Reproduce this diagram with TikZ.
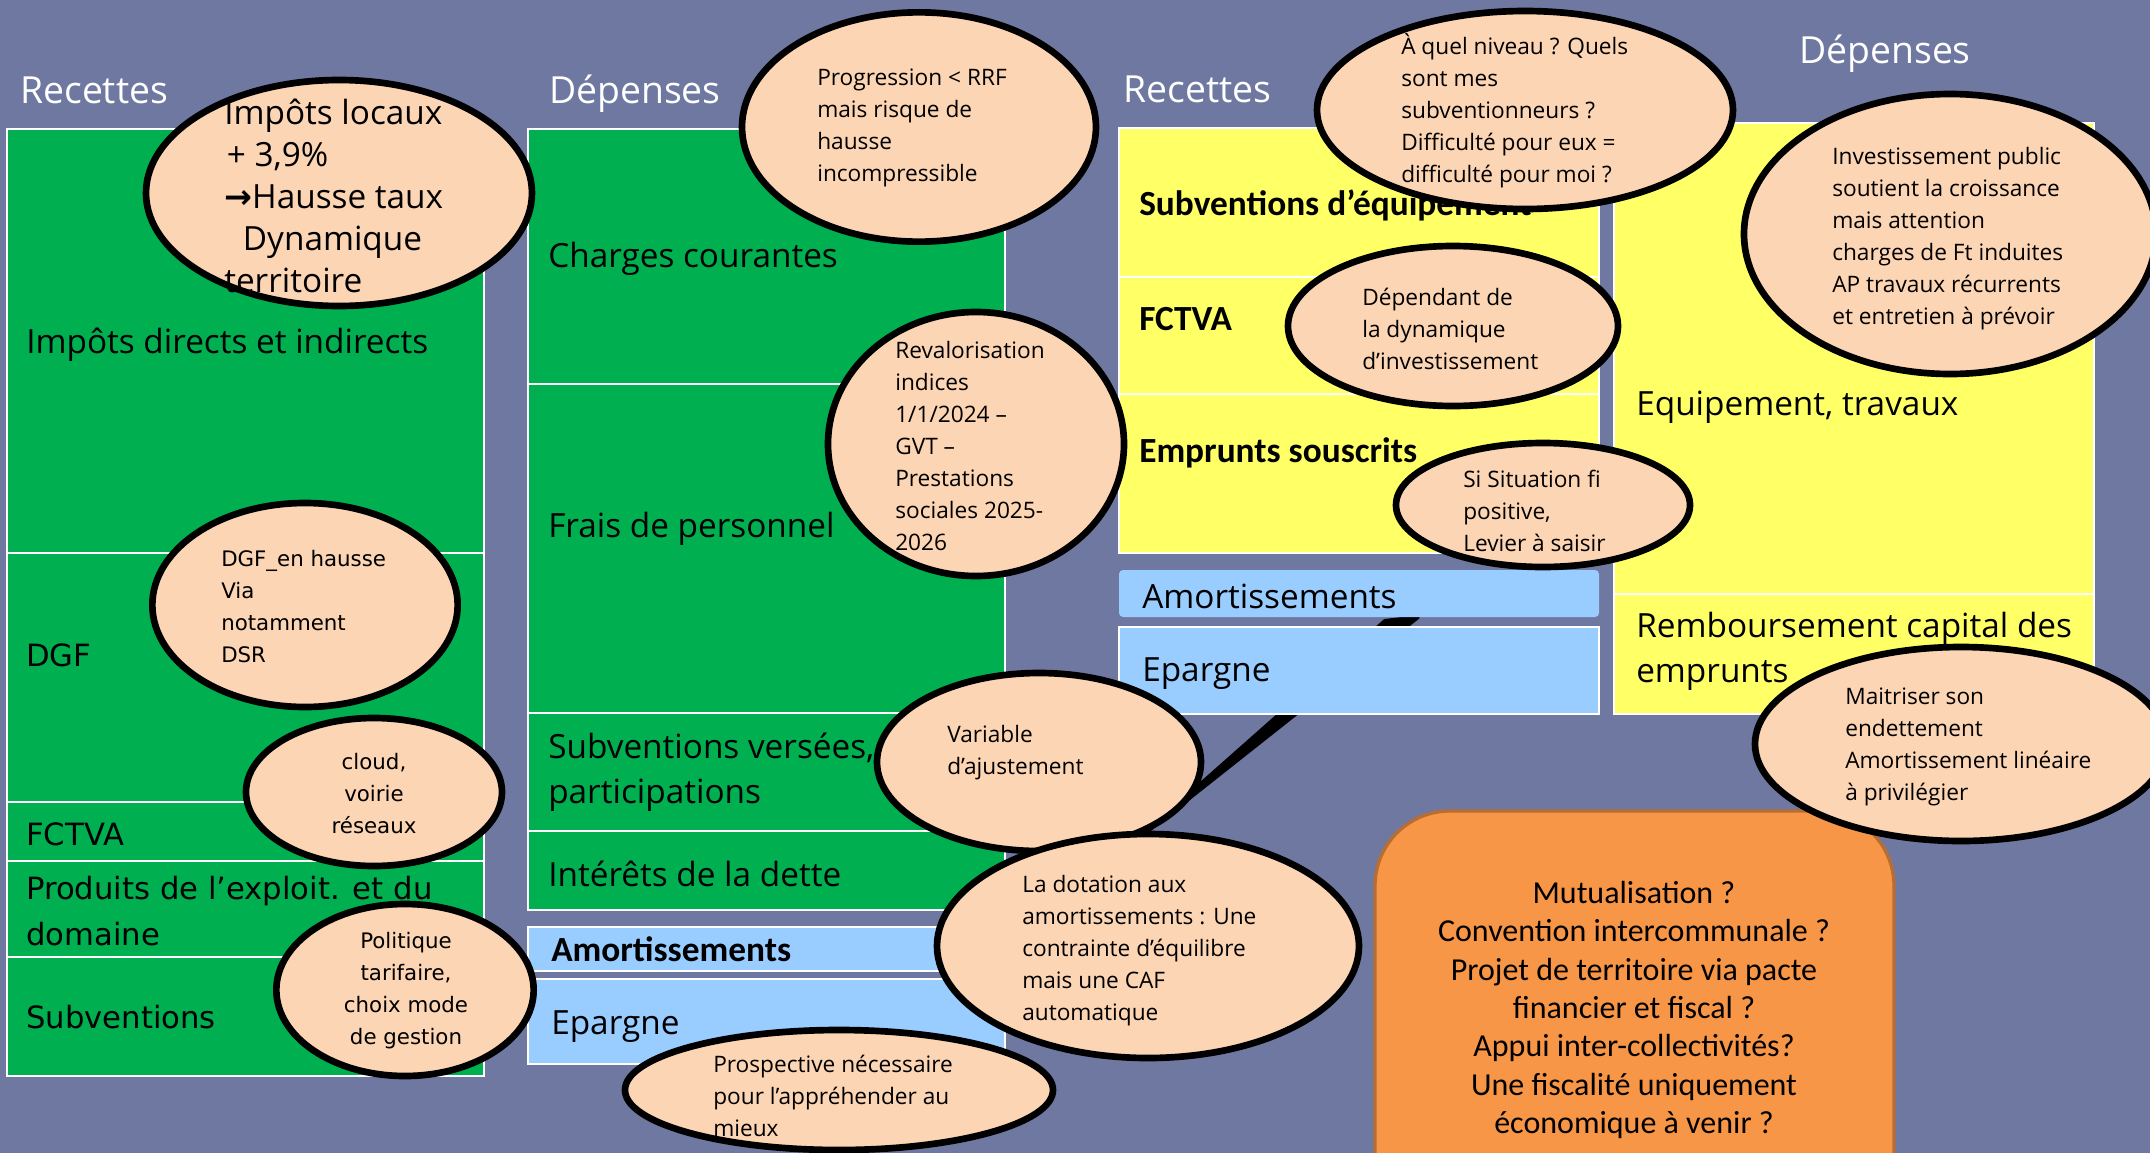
\documentclass[tikz,border=0pt]{standalone}
\usepackage{fontspec}
\setmainfont{Open Sans}
\newfontfamily\dv{DejaVu Sans}
\newfontfamily\cb{Carlito}
\usetikzlibrary{shapes.geometric}
\definecolor{bg}{RGB}{110,120,160}
\definecolor{grn}{RGB}{0,176,80}
\definecolor{yel}{RGB}{255,255,102}
\definecolor{blu}{RGB}{153,204,255}
\definecolor{pch}{RGB}{252,213,180}
\definecolor{org}{RGB}{247,150,70}
\definecolor{orgd}{RGB}{182,110,52}
\pgfdeclarelayer{bgl}
\pgfdeclarelayer{ptr}
\pgfsetlayers{bgl,ptr,main}
\begin{document}
\begin{tikzpicture}[x=0.75pt,y=-0.75pt,
  gbox/.style={draw=white,line width=2.2pt,fill=grn},
  ybox/.style={draw=white,line width=2.2pt,fill=yel},
  bbox/.style={draw=white,line width=2.2pt,fill=blu},
  obox/.style={draw=orgd,line width=2.5pt,fill=org,rounded corners=56pt},
  bt/.style={anchor=west,inner sep=0pt,align=left,font=\fontsize{25}{34}\selectfont},
  bld/.style={anchor=west,inner sep=0pt,font=\cb\bfseries\fontsize{26.5}{32}\selectfont},
  dvt/.style={anchor=west,inner sep=0pt,align=left,font=\dv\fontsize{23}{34}\selectfont},
  ttl/.style={anchor=base west,inner sep=0pt,text=white,font=\fontsize{28}{34}\selectfont},
  bub/.style={ellipse,draw=black,line width=5pt,fill=pch,inner sep=0pt},
  st/.style={anchor=west,inner sep=0pt,align=left,font=\fontsize{17}{24}\selectfont},
  dst/.style={inner sep=0pt,align=center,font=\dv\fontsize{16}{24}\selectfont},
  dsl/.style={anchor=west,inner sep=0pt,align=left,font=\dv\fontsize{16}{24}\selectfont},
  ot/.style={inner sep=0pt,align=center,font=\cb\fontsize{24}{28.8}\selectfont},
]
\useasboundingbox (0,0) rectangle (2150,1153);
\clip (0,0) rectangle (2150,1153);
\begin{pgfonlayer}{bgl}
\fill[bg] (0,0) rectangle (2150,1153);
\end{pgfonlayer}

% titles
\node[ttl] (h1) at (20,103) {Recettes};
\node[ttl] (h2) at (549,103) {Dépenses};
\node[ttl] (h3) at (1123,102) {Recettes};
\node[ttl] (h4) at (1799,63) {Dépenses};

% column 1
\draw[gbox] (7,129) rectangle (484,553);
\draw[gbox] (7,553) rectangle (484,802);
\draw[gbox] (7,802) rectangle (484,861);
\draw[gbox] (7,861) rectangle (484,957);
\draw[gbox] (7,957) rectangle (484,1076);
\node[bt] (c1a) at (26,345) {Impôts directs et indirects};
\node[dvt] (c1b) at (26,655) {DGF};
\node[dvt] (c1c) at (26,834) {FCTVA};
\node[dvt] (c1e) at (26,1017) {Subventions};

% column 2
\draw[gbox] (528,129) rectangle (1005,384);
\draw[gbox] (528,384) rectangle (1005,713);
\draw[gbox] (528,713) rectangle (1005,831);
\draw[gbox] (528,831) rectangle (1005,910);
\draw[bbox] (528,927) rectangle (1005,971);
\draw[bbox] (528,979) rectangle (1005,1064);
\node[bt] (c2a) at (548,259) {Charges courantes};
\node[bt] (c2b) at (548,529) {Frais de personnel};
\node[bt] (c2c) at (548,772) {Subventions versées,\\participations};
\node[bt] (c2d) at (548,874) {Intérêts de la dette};
\node[bld] (c2e) at (551,949) {Amortissements};
\node[bt] (c2f) at (551,1027) {Epargne};

% column 3
\draw[ybox] (1119,128) rectangle (1599,277);
\draw[ybox] (1119,277) rectangle (1599,394);
\draw[ybox] (1119,394) rectangle (1599,553);
\fill[blu,rounded corners=3pt] (1119,570) rectangle (1599,617);
\draw[bbox] (1119,627) rectangle (1599,714);
\node[bld] (c3a) at (1139,205) {Subventions d’équipement};
\node[bld] (c3b) at (1139,319) {FCTVA};
\node[bld] (c3c) at (1139,453) {Emprunts souscrits};
\node[bt] (c3d) at (1142,596) {Amortissements};
\node[bt] (c3e) at (1142,674) {Epargne};

% column 4
\draw[ybox] (1614,123) rectangle (2094,594);
\draw[ybox] (1614,594) rectangle (2094,714);
\node[bt] (c4a) at (1636,407) {Equipement, travaux};
\node[bt] (c4b) at (1636,651) {Remboursement capital des\\emprunts};

% orange box
\draw[obox] (1375,811) rectangle (1894,1230);
\node[ot] (ob) at (1634,1010) {Mutualisation ?\\Convention intercommunale ?\\Projet de territoire via pacte\\financier et fiscal ?\\Appui inter-collectivités?\\Une fiscalité uniquement\\économique à venir ?};

% bubbles
\node[bub,minimum width=289.5pt,minimum height=169.5pt] (e1) at (339,193) {};
\node[bub,minimum width=265.5pt,minimum height=172pt] (e2) at (919,127) {};
\node[bub,minimum width=222pt,minimum height=198pt] (e3) at (976,444) {};
\node[bub,minimum width=229pt,minimum height=153pt] (e4) at (305,605) {};
\node[bub,minimum width=192pt,minimum height=111pt] (e5) at (374,792) {};
\node[bub,minimum width=193pt,minimum height=129pt] (e6) at (405,990) {};
\node[bub,minimum width=243pt,minimum height=133.5pt] (e7) at (1039,762) {};
\node[bub,minimum width=316.5pt,minimum height=168pt] (e8) at (1148,946) {};
\node[bub,minimum width=321pt,minimum height=90pt] (e9) at (839,1090) {};
\node[bub,minimum width=312pt,minimum height=148.5pt] (e10) at (1525,110) {};
\node[bub,minimum width=247.5pt,minimum height=120pt] (e11) at (1453,326) {};
\node[bub,minimum width=220.5pt,minimum height=93pt] (e12) at (1543,505) {};
\node[bub,minimum width=309pt,minimum height=210pt] (e13) at (1950,234) {};
\node[bub,minimum width=309pt,minimum height=145.5pt] (e14) at (1961,744) {};

% text of column 1 that sits above the bubbles
\node[dvt] (c1d) at (26,911) {Produits de l’exploit. et du\\domaine};

% callout pointer of e8 (behind the boxes)
\coordinate (p1) at (1385,621);
\coordinate (p2) at (1418,617);
\begin{pgfonlayer}{ptr}
\filldraw[black,line width=3pt,line join=round] (e8.north) -- (p1) -- (p2) -- cycle;
\end{pgfonlayer}

% bubble texts
\node[anchor=west,inner sep=0pt,align=left,font=\fontsize{25}{31.5}\selectfont] (t1) at (224,196)
  {Impôts locaux\\\hspace{2pt}+ 3,9\%\\{\dv\bfseries →}Hausse taux\\\hspace{14pt}Dynamique\\territoire};
\node[st] (t2) at (817,128) {Progression < RRF\\mais risque de\\hausse\\incompressible};
\node[st] (t3) at (895,446) {Revalorisation\\indices\\1/1/2024 –\\GVT –\\Prestations\\sociales 2025-\\2026};
\node[dsl] (t4) at (221,607) {DGF\_en hausse\\Via\\notamment\\DSR};
\node[dst] (t5) at (374,794) {cloud,\\voirie\\réseaux};
\node[dst] (t6) at (406,991) {Politique\\tarifaire,\\choix mode\\de gestion};
\node[st] (t7) at (947,753) {Variable\\d’ajustement};
\node[st] (t8) at (1022,951) {La dotation aux\\amortissements : Une\\contrainte d’équilibre\\mais une CAF\\automatique};
\node[st] (t9) at (713,1096) {Prospective nécessaire\\pour l’appréhender au\\mieux};
\node[st] (t10) at (1401,111) {À quel niveau ? Quels\\sont mes\\subventionneurs ?\\Difficulté pour eux =\\difficulté pour moi ?};
\node[st] (t11) at (1362,329) {Dépendant de\\la dynamique\\d’investissement};
\node[st] (t12) at (1463,511) {Si Situation fi\\positive,\\Levier à saisir};
\node[st] (t13) at (1832,239) {Investissement public\\soutient la croissance\\mais attention\\charges de Ft induites\\AP travaux récurrents\\et entretien à prévoir};
\node[st] (t14) at (1845,747) {Maitriser son\\endettement\\Amortissement linéaire\\à privilégier};
\end{tikzpicture}
\end{document}
